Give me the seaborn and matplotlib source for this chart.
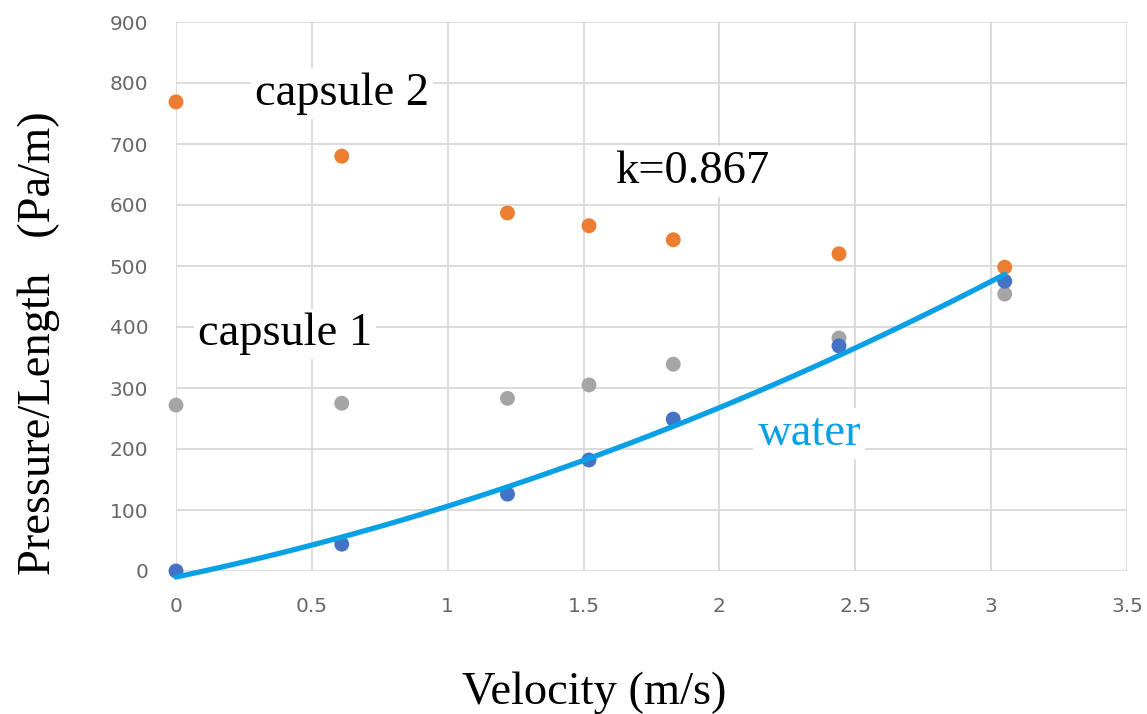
import matplotlib
matplotlib.use("Agg")
import matplotlib.pyplot as plt
import seaborn as sns
import pandas as pd

# Data
velocity = [0.0, 0.61, 1.22, 1.52, 1.83, 2.44, 3.05]
capsule2 = [769, 680, 587, 566, 543, 520, 498]
capsule1 = [272, 275, 283, 305, 339, 382, 454]
water = [0, 44, 126, 182, 249, 369, 475]

x_ticks = [0, 0.5, 1, 1.5, 2, 2.5, 3, 3.5]
x_tick_labels = ["0", "0.5", "1", "1.5", "2", "2.5", "3", "3.5"]
y_ticks = [0, 100, 200, 300, 400, 500, 600, 700, 800, 900]

sns.set_theme(style="white")
plt.rcParams["font.family"] = ["DejaVu Sans"]

df = pd.DataFrame({
    "v": velocity * 3,
    "p": capsule2 + capsule1 + water,
    "series": ["capsule 2"] * 7 + ["capsule 1"] * 7 + ["water"] * 7,
})
wdf = pd.DataFrame({"v": velocity, "p": water})

fig, ax = plt.subplots(figsize=(11.47, 7.14), dpi=100)
fig.subplots_adjust(left=176 / 1147, right=1127 / 1147, top=1 - 22 / 714, bottom=1 - 571 / 714)

palette = {"capsule 2": "#ED7D31", "capsule 1": "#A5A5A5", "water": "#4472C4"}
sns.scatterplot(data=df, x="v", y="p", hue="series", palette=palette, s=115,
                edgecolor="none", legend=False, ax=ax, clip_on=False, zorder=3)
sns.regplot(data=wdf, x="v", y="p", order=2, ci=None, scatter=False, ax=ax,
            line_kws=dict(color="#0AA0E6", linewidth=3.8, zorder=4, clip_on=False))

ax.set_xlim(0, 3.5)
ax.set_ylim(0, 900)
ax.set_xticks(x_ticks)
ax.set_xticklabels(x_tick_labels)
ax.set_yticks(y_ticks)
ax.grid(True, color="#D9D9D9", linewidth=1.3)
ax.set_axisbelow(True)
for s in ax.spines.values():
    s.set_visible(False)
ax.tick_params(axis="both", length=0, labelsize=14.5, labelcolor="#686868")
ax.tick_params(axis="x", pad=19)
ax.tick_params(axis="y", pad=20)

serif = ["Liberation Serif", "DejaVu Serif"]
ax.set_xlabel("Velocity (m/s)", family=serif, fontsize=33.5, color="black")
ax.xaxis.set_label_coords(0.44, -0.183)
ax.set_ylabel("Pressure/Length   (Pa/m)", family=serif, fontsize=33.5, color="black")
ax.yaxis.set_label_coords(-0.122, 0.415)

box = dict(facecolor="white", edgecolor="none", pad=3)
ax.text(0.291, 764, "capsule 2", family=serif, fontsize=33.5, color="black",
        va="baseline", ha="left", bbox=box, zorder=5)
ax.text(1.616, 636, "k=0.867", family=serif, fontsize=33.5, color="black",
        va="baseline", ha="left", bbox=box, zorder=5)
ax.text(0.081, 370, "capsule 1", family=serif, fontsize=33.5, color="black",
        va="baseline", ha="left", bbox=box, zorder=5)
ax.text(2.14, 207, "water", family=serif, fontsize=33.5, color="#0AA0E6",
        va="baseline", ha="left", bbox=box, zorder=5)

fig.savefig("out.png", dpi=100)
